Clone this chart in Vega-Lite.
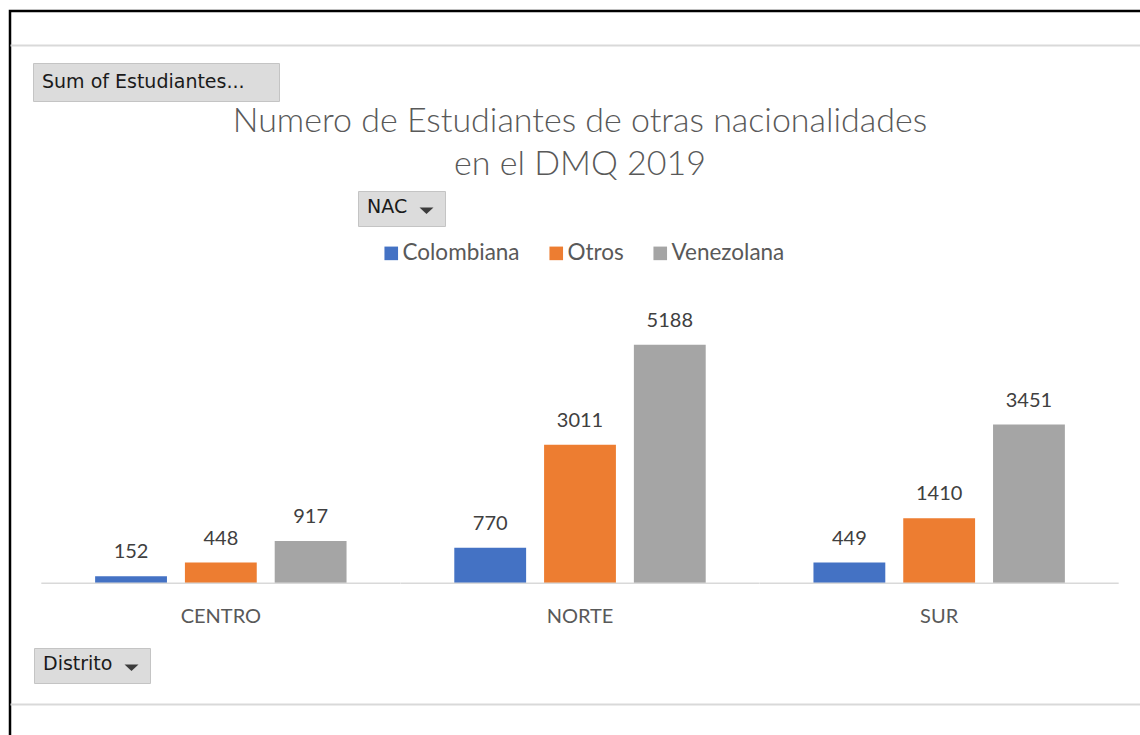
{
  "$schema": "https://vega.github.io/schema/vega-lite/v6.json",
  "width": 1140,
  "height": 733,
  "autosize": {"type": "none"},
  "padding": {"left": 10, "top": 11, "right": 0, "bottom": 0},
  "background": "white",
  "title": {
    "text": ["Numero de Estudiantes de otras nacionalidades", "en el DMQ 2019"],
    "font": "Lato",
    "fontWeight": 300,
    "fontSize": 34,
    "color": "#595959",
    "lineHeight": 43,
    "anchor": "middle",
    "frame": "group",
    "offset": -171
  },
  "data": {
    "values": [
      {"Distrito": "CENTRO", "NAC": "Colombiana", "value": 152},
      {"Distrito": "CENTRO", "NAC": "Otros", "value": 448},
      {"Distrito": "CENTRO", "NAC": "Venezolana", "value": 917},
      {"Distrito": "NORTE", "NAC": "Colombiana", "value": 770},
      {"Distrito": "NORTE", "NAC": "Otros", "value": 3011},
      {"Distrito": "NORTE", "NAC": "Venezolana", "value": 5188},
      {"Distrito": "SUR", "NAC": "Colombiana", "value": 449},
      {"Distrito": "SUR", "NAC": "Otros", "value": 1410},
      {"Distrito": "SUR", "NAC": "Venezolana", "value": 3451}
    ]
  },
  "layer": [
    {
      "mark": {"type": "bar"},
      "encoding": {
        "x": {
          "field": "Distrito",
          "type": "nominal",
          "scale": {"paddingInner": 0, "paddingOuter": 0.087},
          "axis": {
            "orient": "bottom",
            "offset": -40,
            "title": null,
            "domainColor": "#d9d9d9",
            "domainWidth": 2,
            "ticks": false,
            "tickSize": 0,
            "labelPadding": -82,
            "labelBaseline": "alphabetic",
            "labelAngle": 0,
            "labelFont": "Lato",
            "labelFontSize": 20,
            "labelColor": "#595959"
          }
        },
        "xOffset": {
          "field": "NAC",
          "type": "nominal",
          "scale": {"paddingInner": 0.2, "paddingOuter": 0.6}
        },
        "y": {
          "field": "value",
          "type": "quantitative",
          "scale": {"domain": [-3500, 12450], "nice": false},
          "axis": null
        },
        "color": {
          "field": "NAC",
          "type": "nominal",
          "scale": {"domain": ["Colombiana", "Otros", "Venezolana"], "range": ["#4472C4", "#ED7D31", "#A5A5A5"]},
          "legend": {
            "title": null,
            "orient": "none",
            "legendX": 370,
            "legendY": 231,
            "direction": "horizontal",
            "symbolType": "square",
            "symbolSize": 185,
            "symbolStrokeWidth": 0,
            "labelFont": "Lato",
            "labelFontSize": 22.5,
            "labelColor": "#595959",
            "labelOffset": 0,
            "columnPadding": 25,
            "padding": 0
          }
        },
        "opacity": {
          "field": "value",
          "type": "quantitative",
          "scale": {"domain": [0, 6000], "range": [1, 1]},
          "legend": {
            "title": "Sum of Estudiantes...",
            "orient": "none",
            "legendX": 23,
            "legendY": 52,
            "direction": "horizontal",
            "titleOrient": "left",
            "titleFont": "DejaVu Sans",
            "titleFontSize": 19,
            "titleFontWeight": "normal",
            "titleColor": "#1a1a1a",
            "titleLimit": 1000,
            "titleBaseline": "middle",
            "titlePadding": 6,
            "values": [1000],
            "labelExpr": "''",
            "labelFontSize": 1,
            "labelOffset": 0,
            "symbolType": "square",
            "symbolSize": 361,
            "symbolFillColor": "transparent",
            "symbolStrokeColor": "transparent",
            "symbolStrokeWidth": 0,
            "fillColor": "#dcdcdc",
            "strokeColor": "#c4c4c4",
            "padding": 9
          }
        },
        "strokeDash": {
          "field": "NAC",
          "type": "nominal",
          "legend": {
            "title": "NAC",
            "orient": "none",
            "legendX": 348,
            "legendY": 180,
            "direction": "horizontal",
            "titleOrient": "left",
            "titleFont": "DejaVu Sans",
            "titleFontSize": 19,
            "titleFontWeight": "normal",
            "titleColor": "#1a1a1a",
            "titleLimit": 1000,
            "titleBaseline": "middle",
            "titlePadding": 9,
            "values": ["Otros"],
            "labelExpr": "''",
            "labelFontSize": 1,
            "labelOffset": 0,
            "symbolType": "M-0.737,-0.2L0.737,-0.2L0,0.47Z",
            "symbolSize": 361,
            "symbolFillColor": "#3c3c3c",
            "symbolStrokeColor": "transparent",
            "symbolStrokeWidth": 0,
            "symbolOpacity": 1,
            "fillColor": "#dcdcdc",
            "strokeColor": "#c4c4c4",
            "padding": 9
          }
        },
        "strokeWidth": {
          "field": "value",
          "type": "quantitative",
          "scale": {"domain": [0, 8000], "range": [0, 0]},
          "legend": {
            "title": "Distrito",
            "orient": "none",
            "legendX": 24,
            "legendY": 637,
            "direction": "horizontal",
            "titleOrient": "left",
            "titleFont": "DejaVu Sans",
            "titleFontSize": 19,
            "titleFontWeight": "normal",
            "titleColor": "#1a1a1a",
            "titleLimit": 1000,
            "titleBaseline": "middle",
            "titlePadding": 9,
            "values": [1000],
            "labelExpr": "''",
            "labelFontSize": 1,
            "labelOffset": 0,
            "symbolType": "M-0.737,-0.2L0.737,-0.2L0,0.47Z",
            "symbolSize": 361,
            "symbolFillColor": "#3c3c3c",
            "symbolStrokeColor": "transparent",
            "symbolStrokeWidth": 0,
            "symbolOpacity": 1,
            "fillColor": "#dcdcdc",
            "strokeColor": "#c4c4c4",
            "padding": 9
          }
        }
      }
    },
    {
      "transform": [{"filter": "datum.NAC == 'Otros'"}],
      "mark": {"type": "tick", "orient": "horizontal", "size": 359, "thickness": 1.5, "color": "#d9d9d9", "opacity": 1},
      "encoding": {
        "x": {"field": "Distrito", "type": "nominal", "axis": null},
        "y": {"datum": 0}
      }
    },
    {
      "mark": {"type": "text", "font": "Lato", "fontSize": 20, "fill": "#404040", "baseline": "alphabetic", "dy": -18},
      "encoding": {
        "x": {
          "field": "Distrito",
          "type": "nominal",
          "axis": {"orient": "top", "offset": -34, "title": null, "labels": false, "ticks": false, "domainColor": "#d9d9d9", "domainWidth": 2}
        },
        "xOffset": {"field": "NAC", "type": "nominal"},
        "y": {"field": "value", "type": "quantitative"},
        "text": {"field": "value", "type": "quantitative", "format": "d"}
      }
    }
  ],
  "resolve": {"axis": {"x": "independent"}},
  "config": {
    "view": {"stroke": "black", "strokeWidth": 2.5}
  }
}
